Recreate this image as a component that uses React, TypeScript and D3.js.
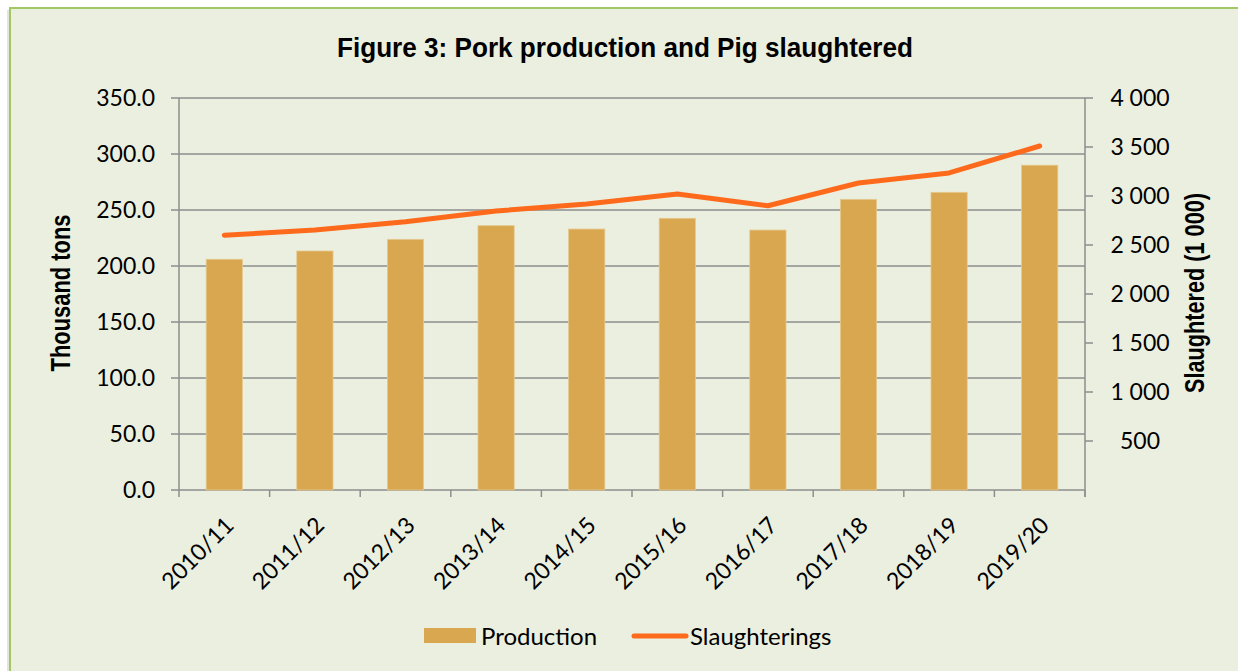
import React from "react";
import * as d3 from "d3";

const categories = ["2010/11","2011/12","2012/13","2013/14","2014/15","2015/16","2016/17","2017/18","2018/19","2019/20"];
const production = [206, 213.4, 223.8, 236, 233, 242.6, 232.1, 259.5, 265.8, 290];
const slaughterings = [2600, 2653, 2738, 2847, 2918, 3020, 2901, 3133, 3235, 3510];
const leftTicks = [0, 50, 100, 150, 200, 250, 300, 350];
const rightTicks = [500, 1000, 1500, 2000, 2500, 3000, 3500, 4000];

const W = 1238, H = 671;
const L = 179, R = 1085, T = 98, B = 490;
const FONT = "Lato, 'Open Sans', sans-serif";
const NARROW = "'Liberation Sans Narrow', 'Liberation Sans', Arial, sans-serif";

export default function App() {
  const x = d3.scaleBand<string>().domain(categories).range([L, R]).paddingInner(0.6).paddingOuter(0.3);
  const xc = d3.scaleBand<string>().domain(categories).range([L, R]);
  const yL = d3.scaleLinear().domain([0, 350]).range([B, T]);
  const yR = d3.scaleLinear().domain([0, 4000]).range([B, T]);
  const line = d3.line<number>()
    .x((_, i) => (xc(categories[i]) as number) + xc.bandwidth() / 2)
    .y(d => yR(d));
  const fmt = (v: number) => d3.format(",")(v).replace(",", " ");
  const grid = "#8e8e8e";
  return (
    <svg width={W} height={H} style={{ position: "absolute", left: 0, top: 0 }}>
      <rect x={0} y={0} width={W} height={H} fill="#ffffff" />
      <rect x={7} y={10} width={W} height={H} fill="#e4e4dc" />
      <rect x={10} y={8} width={W + 5} height={H} fill="#ebefdf" stroke="#a4c765" strokeWidth={2} />
      <text x={625} y={57} textAnchor="middle" fontFamily={NARROW} fontWeight="bold" fontSize={28} fill="#000" textLength={576} lengthAdjust="spacingAndGlyphs">
        Figure 3: Pork production and Pig slaughtered
      </text>
      {leftTicks.map(t => (
        <g key={"l" + t}>
          <line x1={L - 8} x2={R} y1={yL(t)} y2={yL(t)} stroke={grid} strokeWidth={1.5} />
          <text x={155} y={yL(t)} dy="0.36em" textAnchor="end" fontFamily={FONT} fontSize={23} fill="#000">{t.toFixed(1)}</text>
        </g>
      ))}
      {rightTicks.map(t => (
        <g key={"r" + t}>
          <line x1={R} x2={R + 8} y1={yR(t)} y2={yR(t)} stroke={grid} strokeWidth={1.5} />
          <text x={1140} y={yR(t)} dy="0.36em" textAnchor="middle" fontFamily={FONT} fontSize={23} fill="#000">{fmt(t)}</text>
        </g>
      ))}
      <line x1={L} x2={L} y1={T} y2={B + 7} stroke={grid} strokeWidth={1.5} />
      <line x1={R} x2={R} y1={T} y2={B + 7} stroke={grid} strokeWidth={1.5} />
      {categories.map(c => (
        <line key={"xt" + c} x1={(xc(c) as number) + xc.bandwidth()} x2={(xc(c) as number) + xc.bandwidth()} y1={B} y2={B + 7} stroke={grid} strokeWidth={1.5} />
      ))}
      {categories.map((c, i) => (
        <rect key={"b" + c} x={x(c)} y={yL(production[i])} width={x.bandwidth()} height={B - yL(production[i])} fill="#d8a74f" stroke="#e6c98e" strokeWidth={0.8} />
      ))}
      <path d={line(slaughterings) || ""} fill="none" stroke="#fd6a1c" strokeWidth={5} strokeLinecap="round" strokeLinejoin="round" />
      {categories.map(c => {
        const cx = (xc(c) as number) + xc.bandwidth() / 2 + 5;
        return (
          <text key={"xl" + c} transform={`translate(${cx},${521}) rotate(-45)`} textAnchor="end" dy="0.36em" fontFamily={FONT} fontSize={23} fill="#000">{c}</text>
        );
      })}
      <text transform={`translate(70,293) rotate(-90)`} textAnchor="middle" fontFamily={NARROW} fontWeight="bold" fontSize={28} fill="#000" textLength={157} lengthAdjust="spacingAndGlyphs">Thousand tons</text>
      <text transform={`translate(1204,293) rotate(-90)`} textAnchor="middle" fontFamily={NARROW} fontWeight="bold" fontSize={28} fill="#000" textLength={200} lengthAdjust="spacingAndGlyphs">Slaughtered (1 000)</text>
      <rect x={424} y={628} width={52} height={15} fill="#d8a74f" />
      <text x={481} y={636} dy="0.36em" fontFamily={FONT} fontSize={24} fill="#000">Production</text>
      <line x1={634} x2={686} y1={636} y2={636} stroke="#fd6a1c" strokeWidth={5} strokeLinecap="round" />
      <text x={690} y={636} dy="0.36em" fontFamily={FONT} fontSize={24} fill="#000">Slaughterings</text>
    </svg>
  );
}
